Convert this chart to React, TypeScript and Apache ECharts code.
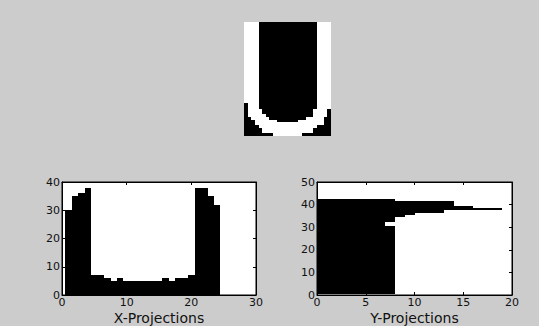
import React, { useEffect, useRef } from "react";
import * as echarts from "echarts";

// ---- Data -------------------------------------------------------------
// Binary image of the letter "U": 42 rows (top to bottom) x 24 columns, '1' = white pixel
const IMAGE_ROWS: string[] = [
  "111100000000000000001111",
  "111100000000000000001111",
  "111100000000000000001111",
  "111100000000000000001111",
  "111100000000000000001111",
  "111100000000000000001111",
  "111100000000000000001111",
  "111100000000000000001111",
  "111100000000000000001111",
  "111100000000000000001111",
  "111100000000000000001111",
  "111100000000000000001111",
  "111100000000000000001111",
  "111100000000000000001111",
  "111100000000000000001111",
  "111100000000000000001111",
  "111100000000000000001111",
  "111100000000000000001111",
  "111100000000000000001111",
  "111100000000000000001111",
  "111100000000000000001111",
  "111100000000000000001111",
  "111100000000000000001111",
  "111100000000000000001111",
  "111100000000000000001111",
  "111100000000000000001111",
  "111100000000000000001111",
  "111100000000000000001111",
  "111100000000000000001111",
  "111100000000000000001111",
  "011100000000000000001111",
  "011100000000000000001111",
  "011110000000000000011110",
  "011110000000000000011110",
  "011111000000000000011110",
  "001111100000000001111100",
  "000111111000000111111100",
  "000111111111111111111100",
  "000011111111111111110000",
  "000001111111111111100000",
  "000001111111111111100000",
  "000000001111111100000000",
];

// X-projection: white pixel count per column (columns 1..24)
const X_COLUMNS = [1, 2, 3, 4, 5, 6, 7, 8, 9, 10, 11, 12, 13, 14, 15, 16, 17, 18, 19, 20, 21, 22, 23, 24];
const X_PROJECTION = [30, 35, 36, 38, 7, 7, 6, 5, 6, 5, 5, 5, 5, 5, 5, 6, 5, 6, 6, 7, 38, 38, 35, 32];

// Y-projection: white pixel count per row (rows 1..42)
const Y_ROWS = [
  1, 2, 3, 4, 5, 6, 7, 8, 9, 10, 11, 12, 13, 14, 15, 16, 17, 18, 19, 20, 21,
  22, 23, 24, 25, 26, 27, 28, 29, 30, 31, 32, 33, 34, 35, 36, 37, 38, 39, 40, 41, 42,
];
const Y_PROJECTION = [
  8, 8, 8, 8, 8, 8, 8, 8, 8, 8, 8, 8, 8, 8, 8, 8, 8, 8, 8, 8, 8,
  8, 8, 8, 8, 8, 8, 8, 8, 8, 7, 7, 8, 8, 9, 10, 13, 19, 16, 14, 14, 8,
];

// Axis ranges / tick steps
const XP_X = { min: 0, max: 30, interval: 10 };
const XP_Y = { min: 0, max: 40, interval: 10 };
const YP_X = { min: 0, max: 20, interval: 5 };
const YP_Y = { min: 0, max: 50, interval: 10 };

const X_TITLE = "X-Projections";
const Y_TITLE = "Y-Projections";

// ---- Component --------------------------------------------------------
const FONT = "DejaVu Sans";
const TEXT = "#111111";

function mainAxis(range: any, gridIndex: number, position: string, name?: string): any {
  return {
    type: "value",
    gridIndex,
    position,
    min: range.min,
    max: range.max,
    interval: range.interval,
    name: name,
    nameLocation: "middle",
    nameGap: 15.5,
    nameTextStyle: { fontFamily: FONT, fontSize: 14, lineHeight: 14, color: TEXT, verticalAlign: "top" },
    axisLine: { show: true, onZero: false, lineStyle: { color: "#000", width: 1 } },
    axisTick: { show: true, inside: true, length: 3, lineStyle: { color: "#000" } },
    axisLabel: { show: true, fontFamily: FONT, fontSize: 11, lineHeight: 11, color: TEXT, margin: 2 },
    splitLine: { show: false },
  };
}

function mirrorAxis(range: any, gridIndex: number, position: string): any {
  return {
    type: "value",
    gridIndex,
    position,
    min: range.min,
    max: range.max,
    interval: range.interval,
    axisLine: { show: true, onZero: false, lineStyle: { color: "#000", width: 1 } },
    axisTick: { show: true, inside: true, length: 3, lineStyle: { color: "#000" } },
    axisLabel: { show: false },
    splitLine: { show: false },
  };
}

// rectangle between two data-space corners, snapped to whole pixels
function snappedRect(api: any, p: number[], q: number[], fill: string): any {
  const a = api.coord(p);
  const b = api.coord(q);
  const x0 = Math.round(Math.min(a[0], b[0]));
  const x1 = Math.round(Math.max(a[0], b[0]));
  const y0 = Math.round(Math.min(a[1], b[1]));
  const y1 = Math.round(Math.max(a[1], b[1]));
  return {
    type: "rect",
    shape: { x: x0, y: y0, width: x1 - x0, height: y1 - y0 },
    style: { fill },
  };
}

export default function App() {
  const ref = useRef<HTMLDivElement>(null);

  useEffect(() => {
    if (!ref.current) return;
    const chart = echarts.init(ref.current, undefined, { renderer: "svg" });

    // white runs of the image: [colStart, row, colEnd]
    const runs: number[][] = [];
    IMAGE_ROWS.forEach((line, ri) => {
      let start = -1;
      for (let c = 0; c <= line.length; c++) {
        const on = c < line.length && line[c] === "1";
        if (on && start < 0) start = c;
        if (!on && start >= 0) {
          runs.push([start + 1, ri + 1, c]);
          start = -1;
        }
      }
    });

    const xData = X_COLUMNS.map((c, i) => [c, X_PROJECTION[i]]);
    const yData = Y_ROWS.map((r, i) => [Y_PROJECTION[i], r]);

    chart.setOption({
      animation: false,
      backgroundColor: "#cccccc",
      grid: [
        { left: 62, top: 182, width: 194, height: 113, show: true, backgroundColor: "#fff", borderColor: "#000", borderWidth: 1 },
        { left: 317, top: 182, width: 195, height: 113, show: true, backgroundColor: "#fff", borderColor: "#000", borderWidth: 1 },
        { left: 244, top: 22, width: 87, height: 114, show: true, backgroundColor: "#000", borderWidth: 0 },
      ],
      xAxis: [
        mainAxis(XP_X, 0, "bottom", X_TITLE),
        mirrorAxis(XP_X, 0, "top"),
        mainAxis(YP_X, 1, "bottom", Y_TITLE),
        mirrorAxis(YP_X, 1, "top"),
        { type: "value", gridIndex: 2, min: 0.5, max: 24.5, show: false },
      ],
      yAxis: [
        mainAxis(XP_Y, 0, "left"),
        mirrorAxis(XP_Y, 0, "right"),
        mainAxis(YP_Y, 1, "left"),
        mirrorAxis(YP_Y, 1, "right"),
        { type: "value", gridIndex: 2, min: 0.5, max: 42.5, inverse: true, show: false },
      ],
      series: [
        {
          type: "custom",
          xAxisIndex: 0,
          yAxisIndex: 0,
          encode: { x: 0, y: 1 },
          data: xData,
          z: 1,
          renderItem: (_p: any, api: any) => {
            const c = api.value(0);
            const v = api.value(1);
            return snappedRect(api, [c - 0.5, v], [c + 0.5, 0], "#000");
          },
        },
        {
          type: "custom",
          xAxisIndex: 2,
          yAxisIndex: 2,
          encode: { x: 0, y: 1 },
          data: yData,
          z: 1,
          renderItem: (_p: any, api: any) => {
            const v = api.value(0);
            const r = api.value(1);
            return snappedRect(api, [0, r + 0.5], [v, r - 0.5], "#000");
          },
        },
        {
          type: "custom",
          xAxisIndex: 4,
          yAxisIndex: 4,
          encode: { x: [0, 2], y: 1 },
          data: runs,
          renderItem: (_p: any, api: any) => {
            const cs = api.value(0);
            const r = api.value(1);
            const ce = api.value(2);
            return snappedRect(api, [cs - 0.5, r - 0.5], [ce + 0.5, r + 0.5], "#fff");
          },
        },
      ],
    });

    return () => chart.dispose();
  }, []);

  return (
    <div
      ref={ref}
      style={{ position: "absolute", left: 0, top: 0, width: 539, height: 326 }}
    />
  );
}
